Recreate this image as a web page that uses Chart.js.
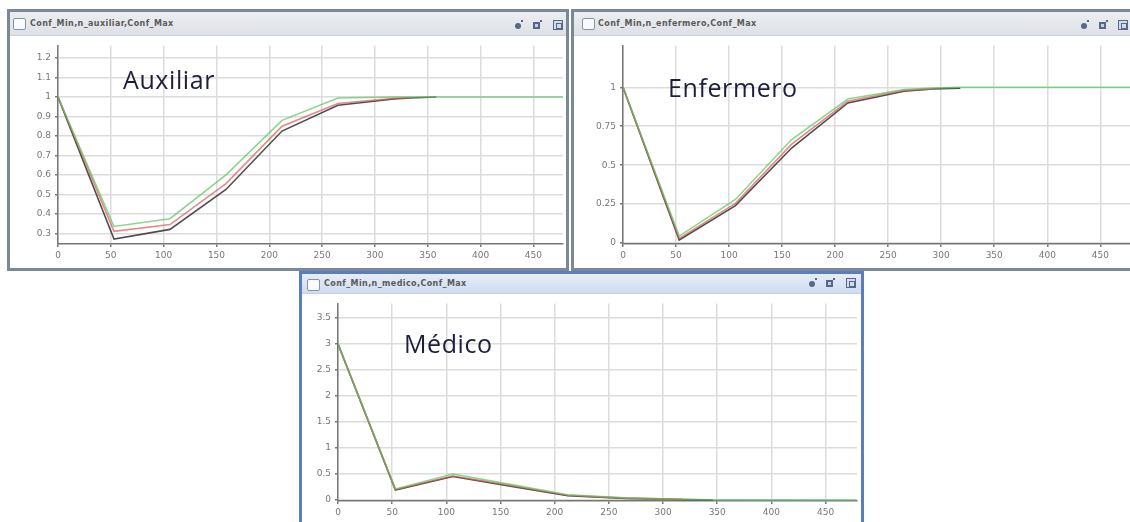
<!DOCTYPE html>
<html><head><meta charset="utf-8">
<script src="https://cdn.jsdelivr.net/npm/chart.js@4/dist/chart.umd.min.js"></script>
<style>
html,body{margin:0;padding:0;background:#fff;width:1130px;height:522px;overflow:hidden;position:relative;font-family:"DejaVu Sans",sans-serif}
.frame{position:absolute;box-sizing:border-box;border:3px solid #7b8898;background:#fff}
.frame.active{border-color:#5a7dbd}
.tbar{position:absolute;left:0;right:0;top:0;height:23px;background:linear-gradient(#eceef1,#dde0e5);border-bottom:1px solid #cdd1d7}
.active .tbar{height:19px;background:linear-gradient(#e6edf8,#cfdcf0);border-bottom:1px solid #c3d0e6}
.cb{position:absolute;width:11px;height:10px;border:1px solid #8693a6;border-radius:2px;background:#fafbfc}
.tt{position:absolute;font:bold 8px "DejaVu Sans";color:#5a5a5a;letter-spacing:0.4px;white-space:nowrap}
.ic{position:absolute;box-sizing:border-box}
.imin{width:6px;height:6px;border-radius:50%;background:#56688a}
.imin::after{content:"";position:absolute;left:6px;top:-3px;width:2px;height:2px;background:#56688a}
.imax{width:7px;height:7px;border:2px solid #56688a;background:#c8d0dc}
.imax::after{content:"";position:absolute;left:5px;top:-4px;width:2px;height:2px;background:#56688a}
.icls{width:10px;height:10px;border:1px solid #56688a;background:#d6dce6}
.icls::after{content:"";position:absolute;left:2px;top:2px;width:4px;height:4px;border:1px solid #56688a}
canvas{position:absolute}
.ann{position:absolute;font-family:"Open Sans",sans-serif;font-size:25px;line-height:25px;color:#1d1d3d;letter-spacing:0.6px;white-space:nowrap}
</style>
</head>
<body>
<div class="frame" style="left:7px;top:9px;width:562px;height:262px">
  <div class="tbar"><div class="cb" style="left:3px;top:6px"></div><div class="tt" style="left:20px;top:7px">Conf_Min,n_auxiliar,Conf_Max</div></div>
</div>
<div class="frame" style="left:571px;top:9px;width:565px;height:262px">
  <div class="tbar"><div class="cb" style="left:8px;top:6px"></div><div class="tt" style="left:24px;top:7px">Conf_Min,n_enfermero,Conf_Max</div></div>
</div>
<div class="frame active" style="left:299px;top:271px;width:565px;height:256px">
  <div class="tbar"><div class="cb" style="left:5px;top:5px"></div><div class="tt" style="left:22px;top:5px">Conf_Min,n_medico,Conf_Max</div></div>
</div>

<div class="ic imin" style="left:515px;top:23px"></div>
<div class="ic imax" style="left:533px;top:22px"></div>
<div class="ic icls" style="left:553px;top:20px"></div>
<div class="ic imin" style="left:1081px;top:23px"></div>
<div class="ic imax" style="left:1099px;top:22px"></div>
<div class="ic icls" style="left:1118px;top:20px"></div>
<div class="ic imin" style="left:809px;top:281px"></div>
<div class="ic imax" style="left:826px;top:280px"></div>
<div class="ic icls" style="left:846px;top:278px"></div>

<canvas id="cAux" width="556" height="232" style="left:10px;top:36px"></canvas>
<canvas id="cEnf" width="559" height="232" style="left:574px;top:36px"></canvas>
<canvas id="cMed" width="559" height="228" style="left:302px;top:294px"></canvas>

<div class="ann" style="left:123px;top:67px">Auxiliar</div>
<div class="ann" style="left:668px;top:75px">Enfermero</div>
<div class="ann" style="left:404px;top:331px">Médico</div>

<script>
// ---- Data ----
const seriesNames = ['Conf_Min', 'n', 'Conf_Max'];
const xTicks = [0, 50, 100, 150, 200, 250, 300, 350, 400, 450];

// Auxiliar
const auxX   = [0, 53, 106, 159, 212, 265, 318, 333, 358, 478];
const auxMin = [1, 0.27, 0.32, 0.525, 0.825, 0.958, 0.99, 0.995, 1.0];
const auxN   = [1, 0.31, 0.345, 0.555, 0.85, 0.967, 0.993, 0.997];
const auxMax = [1, 0.335, 0.375, 0.6, 0.88, 0.995, 1.0, 1.0, 1.0, 1.0];
const auxYTicks = [0.3, 0.4, 0.5, 0.6, 0.7, 0.8, 0.9, 1, 1.1, 1.2];

// Enfermero
const enfX   = [0, 53, 106, 159, 212, 265, 292, 318, 478];
const enfMin = [1, 0.02, 0.24, 0.61, 0.9, 0.975, 0.99, 0.995];
const enfN   = [1, 0.03, 0.255, 0.635, 0.91, 0.98, 0.99];
const enfMax = [1, 0.045, 0.28, 0.665, 0.925, 0.985, 0.995, 1.0, 1.0];
const enfYTicks = [0, 0.25, 0.5, 0.75, 1];

// Médico
const medX   = [0, 53, 106, 159, 212, 265, 318, 346, 478];
const medMin = [3, 0.19, 0.45, 0.265, 0.08, 0.03, 0.01, 0.0];
const medN   = [3, 0.2, 0.46, 0.28, 0.09, 0.035, 0.012];
const medMax = [3, 0.21, 0.5, 0.3, 0.1, 0.04, 0.015, 0.005, 0];
const medYTicks = [0, 0.5, 1, 1.5, 2, 2.5, 3, 3.5];

// ---- Chart factory ----
const lineColors = ['rgba(60,60,60,0.9)', 'rgba(222,85,85,0.7)', 'rgba(95,198,95,0.72)'];
const tickFont = {family: 'DejaVu Sans', size: 9};
const tickColor = '#777';
const gridColor = '#dcdcdc';
const fmt = v => String(Math.round(v * 1000) / 1000);

function makeChart(id, xs, ys, yTicks, cfg) {
  const datasets = ys.map((vals, i) => ({
    label: seriesNames[i],
    order: ys.length - 1 - i,
    data: vals.map((v, j) => ({x: xs[j], y: v})),
    borderColor: lineColors[i],
    borderWidth: 1.6,
    pointRadius: 0,
    tension: 0,
    fill: false
  }));
  return new Chart(document.getElementById(id), {
    type: 'line',
    data: {datasets},
    options: {
      responsive: false, animation: false, devicePixelRatio: 1,
      layout: {padding: {top: cfg.padTop, right: cfg.padRight, left: 0, bottom: 0}},
      plugins: {legend: {display: false}, tooltip: {enabled: false}},
      scales: {
        x: {
          type: 'linear', min: 0, max: cfg.xMax,
          afterFit: s => { s.height = cfg.xAxisH; },
          afterBuildTicks: s => { s.ticks = xTicks.map(v => ({value: v})); },
          ticks: {font: tickFont, color: tickColor, padding: 3, maxRotation: 0, autoSkip: false, callback: fmt},
          grid: {color: gridColor, lineWidth: 1.5, tickLength: 3, tickColor: '#777'},
          border: {color: '#777', width: 1.5}
        },
        y: {
          type: 'linear', min: cfg.yMin, max: cfg.yMax,
          afterFit: s => { s.width = cfg.yAxisW; },
          afterBuildTicks: s => { s.ticks = yTicks.map(v => ({value: v})); },
          ticks: {font: tickFont, color: tickColor, padding: 4, autoSkip: false, callback: fmt},
          grid: {color: gridColor, lineWidth: 1.5, tickLength: 3, tickColor: '#777'},
          border: {color: '#777', width: 1.5}
        }
      }
    }
  });
}

makeChart('cAux', auxX, [auxMin, auxN, auxMax], auxYTicks,
  {yMin: 0.245, yMax: 1.265, xMax: 478, yAxisW: 48, xAxisH: 24, padTop: 4, padRight: 3});
makeChart('cEnf', enfX, [enfMin, enfN, enfMax], enfYTicks,
  {yMin: -0.006, yMax: 1.269, xMax: 478, yAxisW: 49, xAxisH: 24, padTop: 4, padRight: 3});
makeChart('cMed', medX, [medMin, medN, medMax], medYTicks,
  {yMin: -0.02, yMax: 3.78, xMax: 479, yAxisW: 36, xAxisH: 21, padTop: 4, padRight: 4});
</script>
</body></html>
